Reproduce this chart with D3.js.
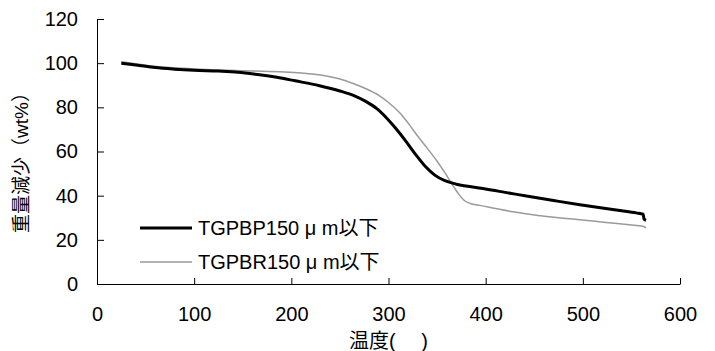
<!DOCTYPE html>
<meta charset="utf-8">
<style>
  body { margin: 0; background: #fff; }
  text { font-family: "Liberation Sans", Arial, "Noto Sans CJK JP", sans-serif; fill: #000; }
</style>
<body>
<script src="https://cdn.jsdelivr.net/npm/d3@7"></script>
<script>

// Data: [temperature, weight %]
var tgpbp = [[25,100],[40,99.2],[60,98],[80,97.3],[100,96.8],[125,96.4],[145,95.9],[163,95],
  [185,93.6],[204,92],[229,89.8],[250,87.4],[265,85.2],[277,82.6],[288,79.4],[298,75.2],
  [308,70.2],[318,64.6],[328,58.6],[338,53.2],[348,49.2],[358,46.8],[370,45.2],[385,44],
  [400,43],[420,41.5],[445,39.6],[470,37.8],[497,35.9],[520,34.4],[540,33.2],[555,32.2],
  [562,31.6],[563,29.5],[565,28.8]];
var tgpbr = [[25,100.6],[50,99.1],[75,98],[100,97.4],[125,96.9],[150,96.6],[188,96.1],[210,95.6],
  [230,94.6],[250,92.8],[265,90.6],[278,88.2],[290,85.4],[300,82.2],[312,77.3],[321,72.4],
  [330,67],[340,61.4],[350,55.6],[358,50.4],[365,45.5],[372,40.8],[378,37.8],[386,36.2],
  [394,35.6],[410,34.2],[428,32.7],[445,31.6],[463,30.6],[480,29.8],[497,29.1],[515,28.3],
  [530,27.6],[548,26.8],[562,26.2],[565,25.4]];
var seriesNames = ["TGPBP150 μ m以下", "TGPBR150 μ m以下"];
var xTicks = [0, 100, 200, 300, 400, 500, 600];
var yTicks = [0, 20, 40, 60, 80, 100, 120];

var width = 715, height = 351;
var plot = {left: 97, right: 680, top: 19, bottom: 284};

var svg = d3.select("body").append("svg")
    .attr("width", width)
    .attr("height", height);

var x = d3.scaleLinear().domain([0, 600]).range([plot.left, plot.right]),
    y = d3.scaleLinear().domain([0, 120]).range([plot.bottom, plot.top]);

// axes, ticks pointing inwards
var xAxis = svg.append("g")
    .attr("transform", "translate(0," + plot.bottom + ")")
    .call(d3.axisBottom(x).tickValues(xTicks).tickSizeInner(-6).tickSizeOuter(0).tickPadding(23));

var yAxis = svg.append("g")
    .attr("transform", "translate(" + plot.left + ",0)")
    .call(d3.axisLeft(y).tickValues(yTicks).tickSizeInner(-7).tickSizeOuter(0).tickPadding(19));

[xAxis, yAxis].forEach(function(g) {
  g.select(".domain").attr("stroke", "#000");
  g.selectAll(".tick line").attr("stroke", "#000");
  g.selectAll(".tick text").attr("fill", "#000").style("font-size", "20px")
    .style("font-family", '"Liberation Sans", Arial, sans-serif');
});

var line = d3.line()
    .curve(d3.curveMonotoneX)
    .x(function(d) { return x(d[0]); })
    .y(function(d) { return y(d[1]); });

svg.append("path")
    .datum(tgpbr)
    .attr("fill", "none")
    .attr("stroke", "#9a9a9a")
    .attr("stroke-width", 1.5)
    .attr("d", line);

svg.append("path")
    .datum(tgpbp)
    .attr("fill", "none")
    .attr("stroke", "#000")
    .attr("stroke-width", 3)
    .attr("d", line);

// legend
var legend = svg.append("g");
var legendStyle = [{color: "#000", w: 3}, {color: "#9a9a9a", w: 1.5}];
seriesNames.forEach(function(name, i) {
  var ly = 228 + i * 34;
  legend.append("line")
      .attr("x1", 140).attr("x2", 192)
      .attr("y1", ly).attr("y2", ly)
      .attr("stroke", legendStyle[i].color)
      .attr("stroke-width", legendStyle[i].w);
  legend.append("text")
      .attr("x", 198).attr("y", ly + 7)
      .style("font-size", "20px")
      .text(name);
});

// axis titles
svg.append("text")
    .attr("x", (plot.left + plot.right) / 2)
    .attr("y", 348)
    .attr("text-anchor", "middle")
    .style("font-size", "20px")
    .text("温度(　 )");

svg.append("text")
    .attr("transform", "translate(28,158) rotate(-90)")
    .attr("text-anchor", "middle")
    .style("font-size", "19px")
    .text("重量減少（wt%）");

</script>
</body>
